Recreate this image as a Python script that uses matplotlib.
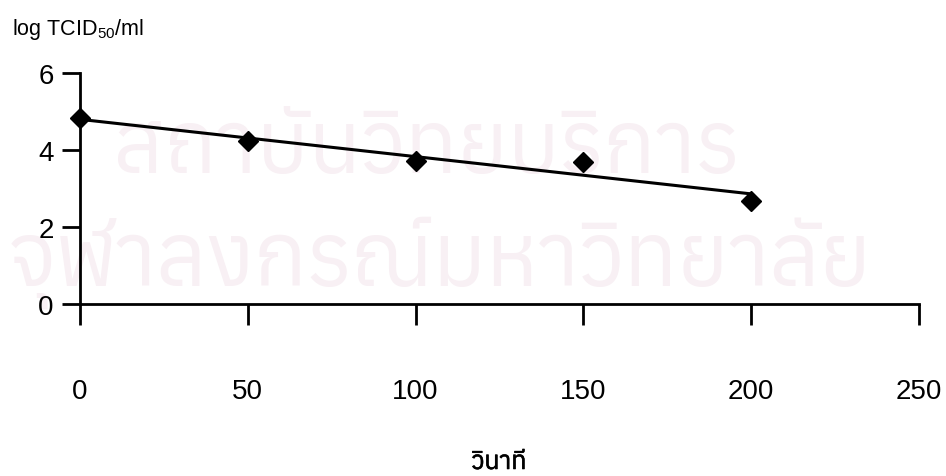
import numpy as np
import matplotlib
matplotlib.use('Agg')
import matplotlib.pyplot as plt
import matplotlib.patheffects as pe
from matplotlib import font_manager
from matplotlib.ft2font import FT2Font

# data
seconds = [0, 50, 100, 150, 200]
log_tcid = [4.83, 4.23, 3.71, 3.69, 2.68]
x_ticks = [0, 50, 100, 150, 200, 250]
y_ticks = [0, 2, 4, 6]

x_label = 'วินาที'
y_label = 'log TCID$_{50}$/ml'
watermark = ['สถาบันวิทยบริการ', 'จุฬาลงกรณ์มหาวิทยาลัย']


def find_thai_font():
    names = []
    for f in font_manager.findSystemFonts():
        try:
            ft = FT2Font(f)
            cmap = ft.get_charmap()
            if ord('ว') in cmap and ord('ท') in cmap:
                names.append(font_manager.FontProperties(fname=f).get_name())
        except Exception:
            pass
    return sorted(set(names))


thai = find_thai_font()
plt.rcParams['font.family'] = ['Liberation Sans'] + thai + ['DejaVu Sans']
plt.rcParams['mathtext.fontset'] = 'custom'
plt.rcParams['mathtext.rm'] = 'Liberation Sans'
plt.rcParams['mathtext.it'] = 'Liberation Sans'

fig = plt.figure(figsize=(9.46, 4.77), dpi=100)
ax = fig.add_axes([80 / 946, 1 - 305 / 477, 839 / 946, 231 / 477])
ax.set_zorder(2)

# faint watermark behind everything
if thai:
    wm_font = thai + ['DejaVu Sans']
    fig.text(0.45, 1 - 150 / 477, watermark[0], fontsize=62, color='#f8f0f4',
             ha='center', va='center', zorder=-1, family=wm_font)
    fig.text(0.465, 1 - 263 / 477, watermark[1], fontsize=63, color='#f8f0f4',
             ha='center', va='center', zorder=-1, family=wm_font)

ax.patch.set_alpha(0)
ax.plot(seconds, log_tcid, 'D', color='black', markersize=10.5, clip_on=False, zorder=3)

# linear trend line
k, b = np.polyfit(seconds, log_tcid, 1)
xs = np.array([seconds[0], seconds[-1]])
ax.plot(xs, k * xs + b, color='black', lw=2.2, clip_on=False)

ax.set_xlim(0, 250)
ax.set_ylim(0, 6)
ax.set_xticks(x_ticks)
ax.set_yticks(y_ticks)
ax.tick_params(axis='x', direction='out', length=15, width=2, pad=38, labelsize=20)
ax.tick_params(axis='y', direction='out', length=13, width=2, pad=6, labelsize=20)
for s in ['top', 'right']:
    ax.spines[s].set_visible(False)
for s in ['left', 'bottom']:
    ax.spines[s].set_linewidth(2)

xl = fig.text(499 / 946, 1 - 463 / 477, x_label, fontsize=18, fontweight='bold',
              ha='center', va='center')
xl.set_path_effects([pe.withStroke(linewidth=0.4, foreground='black')])
fig.text(12 / 946, 1 - 30 / 477, y_label, fontsize=15.5, va='center', ha='left')

fig.savefig('out.png', dpi=100)
